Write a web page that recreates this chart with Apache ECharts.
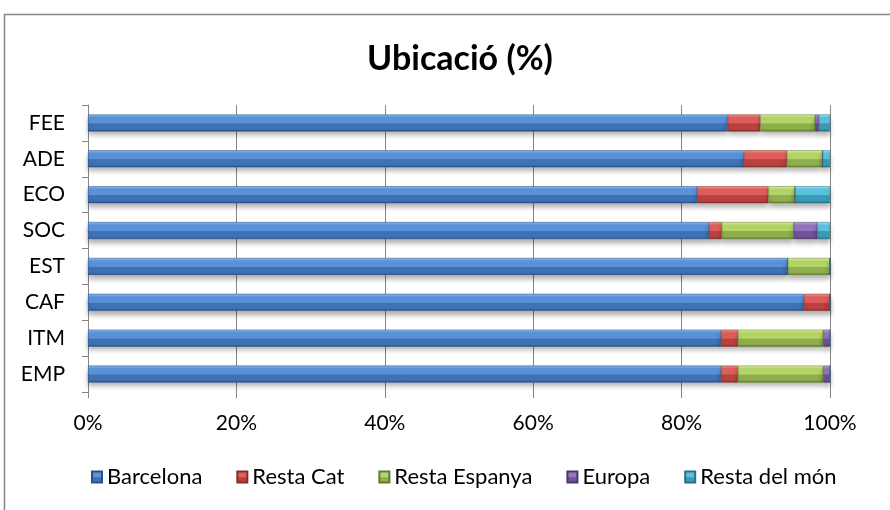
<!DOCTYPE html>
<html>
<head>
<meta charset="utf-8">
<script src="https://cdn.jsdelivr.net/npm/echarts@6/dist/echarts.min.js"></script>
<style>
  html, body { margin: 0; padding: 0; background: #fff; }
  #chart { width: 890px; height: 510px; }
</style>
</head>
<body>
<div id="chart"></div>
<script>
// categories bottom -> top
var categories = ['EMP', 'ITM', 'CAF', 'EST', 'SOC', 'ECO', 'ADE', 'FEE']
var seriesNames = ['Barcelona', 'Resta Cat', 'Resta Espanya', 'Europa', 'Resta del món']
var barcelona = [85.3, 85.3, 96.5, 94.3, 83.7, 82.1, 88.4, 86.2]
var restaCat = [2.3, 2.3, 3.5, 0, 1.7, 9.6, 5.8, 4.4]
var restaEspanya = [11.5, 11.5, 0, 5.7, 9.7, 3.6, 4.8, 7.4]
var europa = [0.9, 0.9, 0, 0, 3.2, 0, 0, 0.5]
var restaMon = [0, 0, 0, 0, 1.7, 4.7, 1.0, 1.5]
var xTicks = [0, 20, 40, 60, 80, 100]

var font = "Lato, 'Liberation Sans', sans-serif"

// highlight / upper / lower / edge for bevelled bars
var palette = [
  ['#8fbcf0', '#5b94dc', '#3f72b4', '#2a5088'],
  ['#f59a96', '#e0605c', '#b9423f', '#862d2a'],
  ['#e2f5a2', '#b6d86a', '#8fae4c', '#617a2e'],
  ['#c4a8e6', '#9477bf', '#6e5396', '#4b3669'],
  ['#a0ecfa', '#5cc4e0', '#3b9bb6', '#276f84']
]

function bevel(c) {
  return new echarts.graphic.LinearGradient(0, 0, 0, 1, [
    { offset: 0, color: c[0] },
    { offset: 0.18, color: c[1] },
    { offset: 0.5, color: c[1] },
    { offset: 0.55, color: c[2] },
    { offset: 0.85, color: c[2] },
    { offset: 1, color: c[3] }
  ])
}

var values = [barcelona, restaCat, restaEspanya, europa, restaMon]

var chart = echarts.init(document.getElementById('chart'))
chart.setOption({
  animation: false,
  textStyle: { fontFamily: font },
  title: {
    text: 'Ubicació (%)',
    left: 455,
    top: 37,
    textAlign: 'center',
    textStyle: { fontFamily: font, fontSize: 34, fontWeight: 'bold', color: '#000' }
  },
  graphic: [{
    type: 'rect',
    shape: { x: 4.5, y: 14.5, width: 900, height: 520 },
    style: { fill: 'none', stroke: '#868686', lineWidth: 1.5 },
    silent: true
  }],
  legend: {
    data: seriesNames,
    bottom: 17,
    left: 86,
    itemWidth: 10,
    itemHeight: 11,
    itemGap: 34,
    icon: 'rect',
    textStyle: { fontFamily: font, fontSize: 22, color: '#000' }
  },
  grid: { left: 88, right: 60, top: 105, bottom: 118 },
  xAxis: {
    type: 'value',
    min: 0,
    max: 100,
    interval: 20,
    axisLine: { show: false },
    axisTick: { show: true, length: 6, lineStyle: { color: '#868686' } },
    splitLine: { show: true, lineStyle: { color: '#868686', width: 1 } },
    axisLabel: {
      formatter: function (v) { return xTicks.indexOf(v) >= 0 ? v + '%' : '' },
      color: '#000',
      fontSize: 21,
      margin: 21,
      fontFamily: font
    }
  },
  yAxis: {
    type: 'category',
    data: categories,
    axisLine: { show: true, lineStyle: { color: '#868686' } },
    axisTick: { show: true, length: 6, inside: false, lineStyle: { color: '#868686' } },
    axisLabel: { color: '#000', fontSize: 21, margin: 23, fontFamily: font }
  },
  series: seriesNames.map(function (name, i) {
    return {
      name: name,
      type: 'bar',
      stack: 'total',
      barWidth: 17,
      data: values[i],
      itemStyle: {
        color: bevel(palette[i]),
        borderColor: palette[i][3],
        borderWidth: 0.5,
        shadowColor: 'rgba(0,0,0,0.3)',
        shadowBlur: 5,
        shadowOffsetY: 4
      }
    }
  })
})
</script>
</body>
</html>
